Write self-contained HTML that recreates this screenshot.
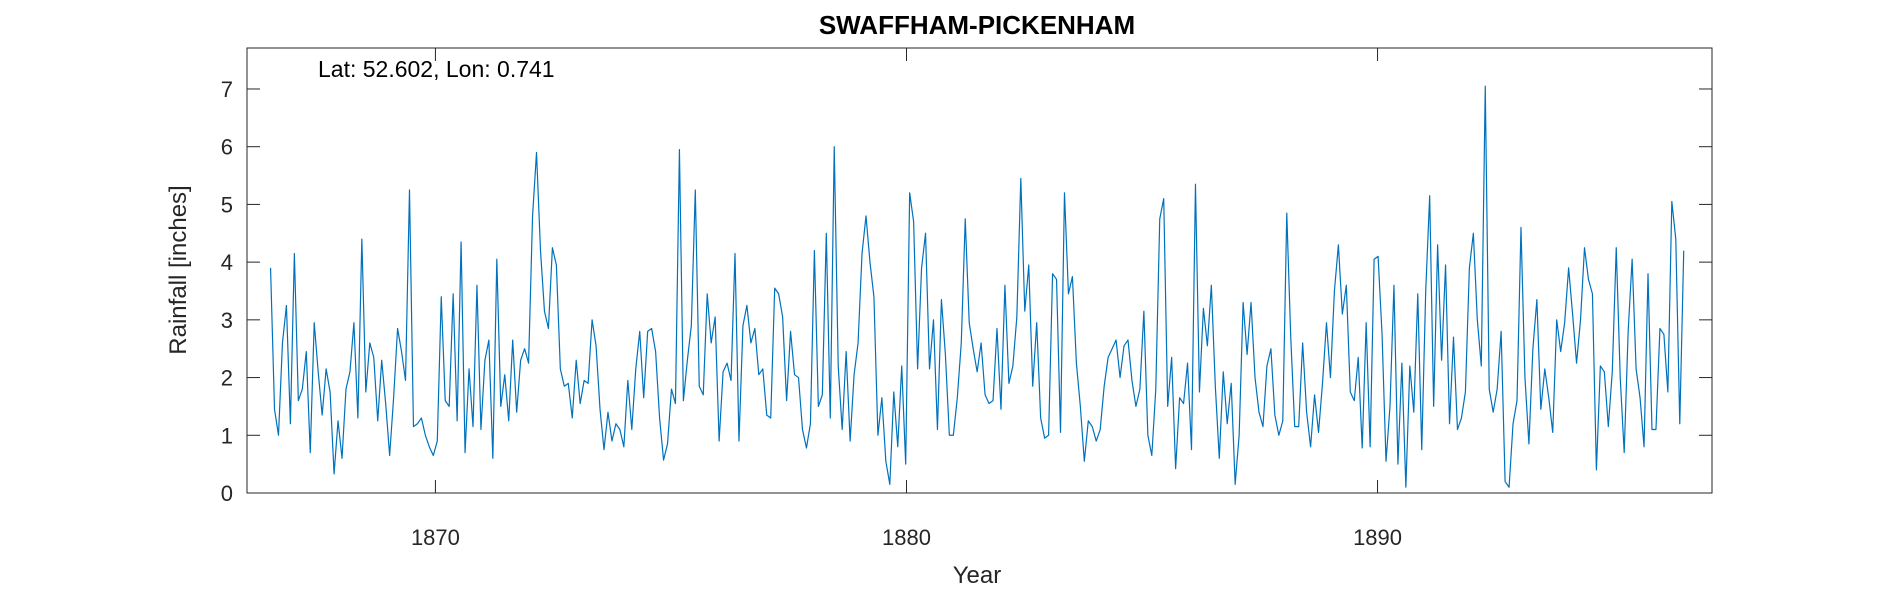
<!DOCTYPE html>
<html><head><meta charset="utf-8"><style>
html,body{margin:0;padding:0;background:#fff}
svg{display:block;font-family:"Liberation Sans",sans-serif}
</style></head><body>
<svg id="chart" width="1890" height="591" viewBox="0 0 1890 591" xmlns="http://www.w3.org/2000/svg">
<rect x="0" y="0" width="1890" height="591" fill="#fff"/>
<text x="977" y="34" text-anchor="middle" font-size="26" font-weight="bold" fill="#000">SWAFFHAM-PICKENHAM</text>
<g id="axes"></g>
<path id="series" fill="none" stroke="#0072BD" stroke-width="1.2" stroke-linejoin="round"/>
<text x="318" y="77" font-size="23" fill="#000">Lat: 52.602, Lon: 0.741</text>
<text x="977" y="583" text-anchor="middle" font-size="24" fill="#262626">Year</text>
<text transform="translate(186,270) rotate(-90)" text-anchor="middle" font-size="24" fill="#262626">Rainfall [inches]</text>
</svg>
<script>
const xTicks = [1870, 1880, 1890];
const yTicks = [0, 1, 2, 3, 4, 5, 6, 7];
const startYear = 1866.5;
const endYear = 1896.5;
const rainfall = [3.9,1.45,1.0,2.6,3.25,1.2,4.15,1.6,1.8,2.45,0.7,2.95,2.1,1.35,2.15,1.75,0.33,1.25,0.6,1.8,2.1,2.95,1.3,4.4,1.75,2.6,2.35,1.25,2.3,1.55,0.65,1.65,2.85,2.45,1.95,5.25,1.15,1.2,1.3,1.0,0.8,0.65,0.9,3.4,1.6,1.5,3.45,1.25,4.35,0.7,2.15,1.15,3.6,1.1,2.3,2.65,0.6,4.05,1.5,2.05,1.25,2.65,1.4,2.3,2.5,2.25,4.8,5.9,4.2,3.15,2.85,4.25,3.95,2.15,1.85,1.9,1.3,2.3,1.55,1.95,1.9,3.0,2.55,1.45,0.75,1.4,0.9,1.2,1.1,0.8,1.95,1.1,2.15,2.8,1.65,2.8,2.85,2.45,1.3,0.57,0.85,1.8,1.55,5.95,1.6,2.3,2.9,5.25,1.85,1.7,3.45,2.6,3.05,0.9,2.1,2.25,1.95,4.15,0.9,2.9,3.25,2.6,2.85,2.05,2.15,1.35,1.3,3.55,3.45,3.05,1.6,2.8,2.05,2.0,1.1,0.78,1.2,4.2,1.5,1.7,4.5,1.3,6.0,2.2,1.1,2.45,0.9,2.05,2.6,4.15,4.8,4.0,3.4,1.0,1.65,0.55,0.15,1.75,0.8,2.2,0.5,5.2,4.7,2.15,3.9,4.5,2.15,3.0,1.1,3.35,2.4,1.0,1.0,1.65,2.6,4.75,2.95,2.5,2.1,2.6,1.7,1.55,1.6,2.85,1.45,3.6,1.9,2.2,3.05,5.45,3.15,3.95,1.85,2.95,1.3,0.95,1.0,3.8,3.7,1.05,5.2,3.45,3.75,2.25,1.5,0.55,1.25,1.15,0.9,1.1,1.85,2.35,2.5,2.65,2.0,2.55,2.65,1.95,1.5,1.8,3.15,1.0,0.65,1.8,4.75,5.1,1.5,2.35,0.42,1.65,1.55,2.25,0.75,5.35,1.75,3.2,2.55,3.6,1.85,0.6,2.1,1.2,1.9,0.15,1.0,3.3,2.4,3.3,2.0,1.4,1.15,2.2,2.5,1.35,1.0,1.25,4.85,2.7,1.15,1.15,2.6,1.4,0.8,1.7,1.05,1.9,2.95,2.0,3.5,4.3,3.1,3.6,1.75,1.6,2.35,0.78,2.95,0.8,4.05,4.1,2.75,0.55,1.5,3.6,0.5,2.25,0.1,2.2,1.4,3.45,0.75,3.5,5.15,1.5,4.3,2.3,3.95,1.2,2.7,1.1,1.3,1.75,3.9,4.5,3.0,2.2,7.05,1.8,1.4,1.8,2.8,0.2,0.1,1.2,1.6,4.6,2.0,0.85,2.5,3.35,1.45,2.15,1.65,1.05,3.0,2.45,2.95,3.9,3.1,2.25,3.0,4.25,3.7,3.45,0.4,2.2,2.1,1.15,2.1,4.25,2.0,0.7,2.8,4.05,2.15,1.65,0.8,3.8,1.1,1.1,2.85,2.75,1.75,5.05,4.4,1.2,4.2];

const L=247,R=1712,T=48,B=493;
const xMin=1866.0,xMax=1897.1,yMin=0,yMax=7.71;
const sx=v=>L+(v-xMin)/(xMax-xMin)*(R-L);
const sy=v=>B-(v-yMin)/(yMax-yMin)*(B-T);
const NS="http://www.w3.org/2000/svg";
const axes=document.getElementById('axes');
function mk(tag,attrs){const e=document.createElementNS(NS,tag);for(const k in attrs)e.setAttribute(k,attrs[k]);axes.appendChild(e);return e;}

const frame=mk('rect',{x:L,y:T,width:R-L,height:B-T,fill:'none',stroke:'#262626','stroke-width':1});



xTicks.forEach(t=>{
  const x=sx(t);
  const a=mk('line',{x1:x,x2:x,y1:B,y2:B-13,stroke:'#262626','stroke-width':1});
  
  
  const b=mk('line',{x1:x,x2:x,y1:T,y2:T+13,stroke:'#262626','stroke-width':1});
  
  
  const lb=mk('text',{x:x,y:545,'text-anchor':'middle','font-size':22,fill:'#262626'});
  lb.textContent=t;
  
  
});
yTicks.forEach(t=>{
  const y=sy(t);
  const a=mk('line',{x1:L,x2:L+13,y1:y,y2:y,stroke:'#262626','stroke-width':1});
  
  
  const b=mk('line',{x1:R,x2:R-13,y1:y,y2:y,stroke:'#262626','stroke-width':1});
  
  
  const lb=mk('text',{x:233,y:y+8,'text-anchor':'end','font-size':22,fill:'#262626'});
  lb.textContent=t;
  
  
});

const n=rainfall.length;
let d='';
rainfall.forEach((v,i)=>{
  const yr=startYear+i*(endYear-startYear)/(n-1);
  d+=(i?'L':'M')+sx(yr).toFixed(2)+' '+sy(v).toFixed(2);
});
document.getElementById('series').setAttribute('d',d);
</script>
</body></html>
